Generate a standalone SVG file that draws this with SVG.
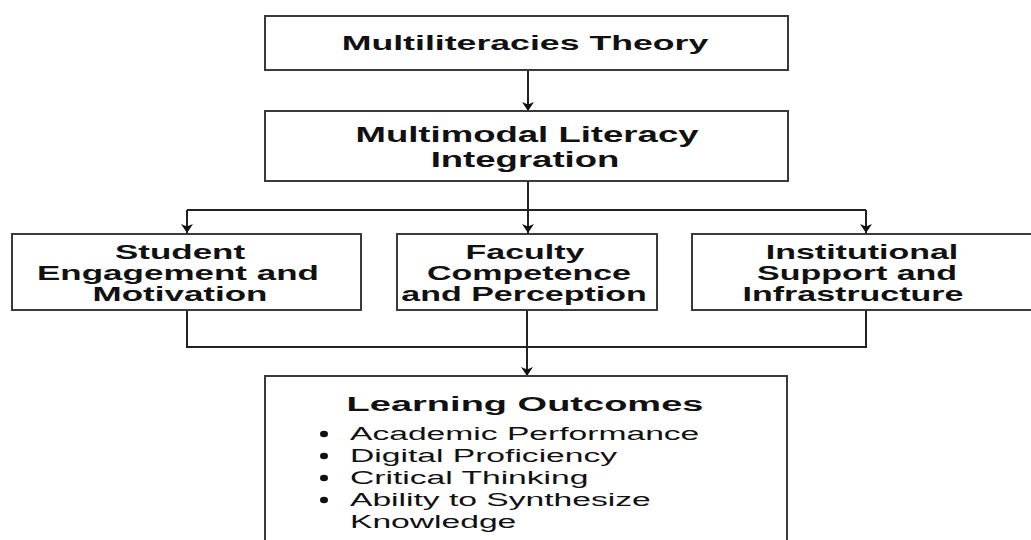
<svg xmlns="http://www.w3.org/2000/svg" width="1031" height="540" viewBox="0 0 1031 540">
  <style>
    .box { fill: #ffffff; stroke: #3a3a3a; stroke-width: 2; }
    .wire { fill: none; stroke: #222222; stroke-width: 2; }
    text { font-family: "Liberation Sans", Arial, Helvetica, sans-serif; fill: #111111; }
    .head { font-weight: bold; text-anchor: middle; }
    .t20 { font-size: 20.5px; }
    .t21 { font-size: 21.5px; }
    .t19 { font-size: 20px; }
    .lo { font-size: 20px; }
    .item { font-size: 19px; text-anchor: start; }
    .dot { fill: #111111; }
  </style>
  <defs>
    <marker id="arrow" viewBox="0 0 9 12" refX="9" refY="6" markerWidth="9" markerHeight="12" markerUnits="userSpaceOnUse" orient="auto">
      <path d="M0,0 L9,6 L0,12 L2.5,6 z" fill="#111111"/>
    </marker>
  </defs>

  <rect width="1031" height="540" fill="#ffffff"/>

  <!-- connectors -->
  <g id="connectors">
    <path class="wire" d="M528,70 V111" marker-end="url(#arrow)"/>
    <path class="wire" d="M528,181 V233" marker-end="url(#arrow)"/>
    <path class="wire" d="M187,210 H866"/>
    <path class="wire" d="M187,210 V233" marker-end="url(#arrow)"/>
    <path class="wire" d="M866,210 V233" marker-end="url(#arrow)"/>
    <path class="wire" d="M187,310 V347 H866 V310"/>
    <path class="wire" d="M527,310 V376" marker-end="url(#arrow)"/>
  </g>

  <!-- theory (labels are widened horizontally with a scale transform) -->
  <g id="multiliteracies-theory">
    <rect class="box" x="265" y="16" width="523" height="54"/>
    <text class="head t20" x="0" y="50" transform="translate(525,0) scale(1.74,1)">Multiliteracies Theory</text>
  </g>

  <!-- integration -->
  <g id="multimodal-integration">
    <rect class="box" x="265" y="111" width="523" height="70"/>
    <text class="head t21" x="0" y="142" transform="translate(527,0) scale(1.7,1)">Multimodal Literacy</text>
    <text class="head t21" x="0" y="167" transform="translate(525,0) scale(1.7,1)">Integration</text>
  </g>

  <!-- factors -->
  <g id="student-engagement">
    <rect class="box" x="12" y="234" width="349" height="76"/>
    <text class="head t19" x="0" y="259" transform="translate(180,0) scale(1.75,1)">Student</text>
    <text class="head t19" x="0" y="280" transform="translate(178,0) scale(1.75,1)">Engagement and</text>
    <text class="head t19" x="0" y="301" transform="translate(180,0) scale(1.75,1)">Motivation</text>
  </g>

  <g id="faculty-competence">
    <rect class="box" x="397" y="234" width="260" height="76"/>
    <text class="head t19" x="0" y="259" transform="translate(525,0) scale(1.7,1)">Faculty</text>
    <text class="head t19" x="0" y="280" transform="translate(529,0) scale(1.7,1)">Competence</text>
    <text class="head t19" x="0" y="301" transform="translate(524,0) scale(1.7,1)">and Perception</text>
  </g>

  <g id="institutional-support">
    <rect class="box" x="692" y="234" width="345" height="76"/>
    <text class="head t19" x="0" y="259" transform="translate(862,0) scale(1.7,1)">Institutional</text>
    <text class="head t19" x="0" y="280" transform="translate(857,0) scale(1.7,1)">Support and</text>
    <text class="head t19" x="0" y="301" transform="translate(853,0) scale(1.7,1)">Infrastructure</text>
  </g>

  <!-- outcomes -->
  <g id="learning-outcomes">
    <rect class="box" x="265" y="376" width="522" height="180"/>
    <text class="head lo" x="0" y="411" transform="translate(525,0) scale(1.9,1)">Learning Outcomes</text>
    <ellipse class="dot" cx="324" cy="434" rx="4" ry="3.3"/>
    <ellipse class="dot" cx="324" cy="456" rx="4" ry="3.3"/>
    <ellipse class="dot" cx="324" cy="478" rx="4" ry="3.3"/>
    <ellipse class="dot" cx="324" cy="500" rx="4" ry="3.3"/>
    <g transform="translate(350,0) scale(1.77,1)">
      <text class="item" x="0" y="440">Academic Performance</text>
      <text class="item" x="0" y="462">Digital Proficiency</text>
      <text class="item" x="0" y="484">Critical Thinking</text>
      <text class="item" x="0" y="506">Ability to Synthesize</text>
      <text class="item" x="0" y="528">Knowledge</text>
    </g>
  </g>
</svg>
